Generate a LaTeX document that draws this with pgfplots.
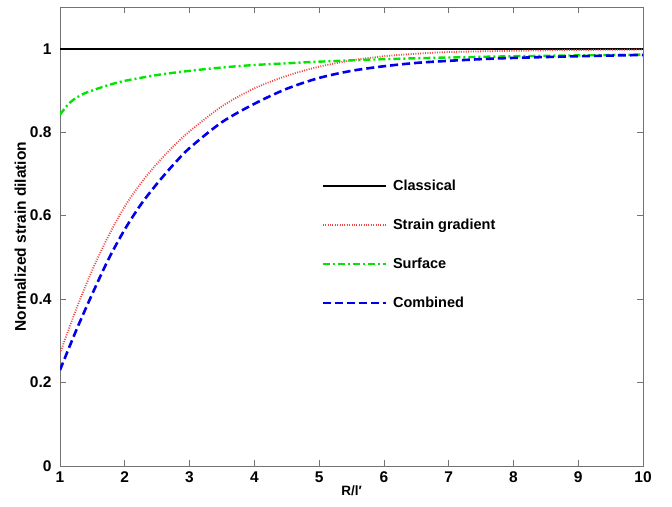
\documentclass[border=0pt]{standalone}
\usepackage{pgfplots}
\pgfplotsset{compat=1.18}
\usepackage{fontspec}
\setmainfont{Liberation Sans}

\definecolor{sgred}{RGB}{240,70,70}
\definecolor{surfgreen}{RGB}{0,230,0}
\definecolor{combblue}{RGB}{0,0,235}

% Normalized strain dilation versus R/l'
\pgfplotstableread{
R     v
1.00  0.270
1.25  0.376
1.50  0.470
1.75  0.552
2.00  0.622
2.25  0.678
2.50  0.725
2.75  0.766
3.00  0.802
3.50  0.862
4.00  0.905
4.50  0.935
5.00  0.957
5.50  0.972
6.00  0.982
6.50  0.988
7.00  0.992
8.00  0.995
9.00  0.997
10.00 0.998
}\straingrad

\pgfplotstableread{
R     v
1.00  0.842
1.10  0.862
1.20  0.877
1.35  0.891
1.50  0.900
1.75  0.913
2.00  0.923
2.50  0.937
3.00  0.947
3.50  0.955
4.00  0.961
4.50  0.965
5.00  0.969
6.00  0.975
7.00  0.979
8.00  0.982
9.00  0.984
10.00 0.986
}\surface

\pgfplotstableread{
R     v
1.00  0.230
1.25  0.325
1.50  0.413
1.75  0.496
2.00  0.567
2.25  0.627
2.50  0.677
2.75  0.722
3.00  0.762
3.50  0.824
4.00  0.868
4.50  0.904
5.00  0.930
5.50  0.947
6.00  0.958
6.50  0.966
7.00  0.971
7.50  0.975
8.00  0.978
9.00  0.982
10.00 0.985
}\combined

\begin{document}
\begin{tikzpicture}
\begin{axis}[
  scale only axis,
  width=583pt, height=459pt,
  xmin=1, xmax=10, ymin=0, ymax=1.1,
  xtick={1,2,...,10},
  ytick={0,0.2,0.4,0.6,0.8,1},
  tick align=inside,
  major tick length=6pt,
  axis line style={draw=black!55, line width=0.8pt},
  tick style={draw=black!55, line width=0.7pt},
  /pgf/number format/assume math mode=true,
  ticklabel style={font=\fontsize{15.5}{18}\selectfont\bfseries},
  xticklabel style={yshift=-2pt},
  yticklabel style={xshift=-5pt},
  xlabel={R/l′},
  ylabel={Normalized strain dilation},
  xlabel style={font=\fontsize{13.5}{15}\selectfont\bfseries, yshift=4pt},
  ylabel style={font=\fontsize{15.5}{18}\selectfont\bfseries, yshift=-3pt},
  legend style={draw=none, fill=none, at={(0.443,0.632)}, anchor=north west,
    font=\fontsize{14.5}{17}\selectfont\bfseries, row sep=23pt,
    nodes={inner xsep=6pt}},
  legend cell align=left,
  legend image code/.code={\draw[#1] (0pt,0pt) -- (63pt,0pt);},
]
\addplot[black, line width=2.4pt] coordinates {(1,1) (10,1)};
\addlegendentry{Classical}
\addplot[sgred, line width=1.8pt, dash pattern=on 1pt off 1.4pt, smooth] table[x=R,y=v] {\straingrad};
\addlegendentry{Strain gradient}
\addplot[surfgreen, line width=2.4pt, dash pattern=on 7pt off 3pt on 2pt off 3pt, smooth] table[x=R,y=v] {\surface};
\addlegendentry{Surface}
\addplot[combblue, line width=2.6pt, dash pattern=on 8pt off 4pt, smooth] table[x=R,y=v] {\combined};
\addlegendentry{Combined}
\end{axis}
\path (current axis.south west) +(-60pt,-40pt) (current axis.north east) +(29pt,7pt);
\end{tikzpicture}
\end{document}
